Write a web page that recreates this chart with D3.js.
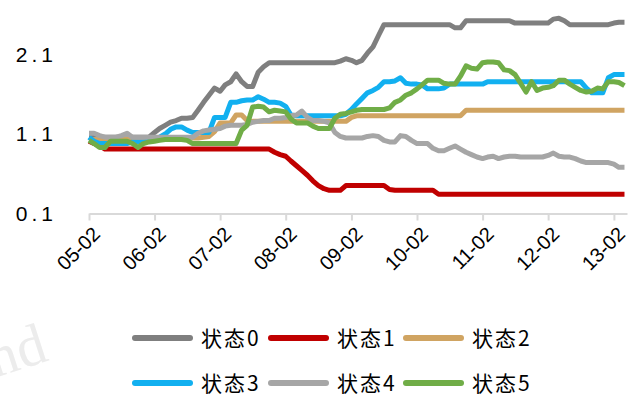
<!DOCTYPE html>
<html><head><meta charset="utf-8">
<script src="https://cdn.jsdelivr.net/npm/d3@7/dist/d3.min.js"></script>
<style>body{margin:0;background:#fff}svg{display:block}</style>
</head><body><div id="chart"></div>
<script>
const seriesNames = ["状态0","状态1","状态2","状态3","状态4","状态5"];
const colors = ["#7f7f7f","#c00000","#d0a462","#12b0f0","#a6a6a6","#70ad47"];
const yTicks = [0.1, 1.1, 2.1];
const yTickLabels = ["0.1","1.1","2.1"];
const xTickLabels = ["05-02","06-02","07-02","08-02","09-02","10-02","11-02","12-02","13-02"];
const startMonth = new Date(2005,1,1);
const endMonth = new Date(2013,3,1);

const s0 = [1.05,1.05,1.05,1.05,1.05,1.05,1.05,1.05,1.05,1.05,1.05,1.05,
 1.11,1.16,1.20,1.24,1.26,1.29,1.29,1.30,1.39,1.49,1.58,1.67,
 1.63,1.71,1.75,1.85,1.75,1.69,1.69,1.87,1.94,1.99,
 1.99,1.99,1.99,1.99,1.99,1.99,1.99,1.99,1.99,1.99,1.99,1.99,
 2.01,2.04,2.02,1.99,2.02,2.11,2.19,2.33,2.47,
 2.47,2.47,2.47,2.47,2.47,2.47,2.47,2.47,2.47,2.47,2.47,2.47,
 2.43,2.43,2.52,2.52,2.52,2.52,2.52,2.52,2.52,2.52,2.52,
 2.49,2.49,2.49,2.49,2.49,2.49,2.49,2.54,2.55,2.52,
 2.47,2.47,2.47,2.47,2.47,2.47,2.47,2.47,2.49,2.50,2.50];
const s1 = [1.00,0.97,0.94,
 0.90,0.90,0.90,0.90,0.90,0.90,0.90,0.90,0.90,0.90,0.90,0.90,0.90,0.90,0.90,0.90,
 0.90,0.90,0.90,0.90,0.90,0.90,0.90,0.90,0.90,0.90,0.90,0.90,0.90,0.90,0.90,
 0.86,0.83,0.81,0.75,0.69,0.63,0.57,0.50,0.44,0.40,0.38,0.38,0.38,
 0.44,0.44,0.44,0.44,0.44,0.44,0.44,0.44,0.39,
 0.38,0.38,0.38,0.38,0.38,0.38,0.38,0.38,
 0.33,0.33,0.33,0.33,0.33,0.33,0.33,0.33,0.33,0.33,0.33,0.33,0.33,0.33,0.33,0.33,0.33,0.33,
 0.33,0.33,0.33,0.33,0.33,0.33,0.33,0.33,0.33,0.33,0.33,0.33,0.33,0.33,0.33,0.33,0.33];
const s2 = [1.02,1.02,1.02,1.02,1.02,1.02,1.02,1.02,1.02,1.02,1.02,1.02,
 1.04,1.04,1.04,1.04,1.04,1.04,1.04,1.04,1.04,1.05,1.06,
 1.12,1.23,1.23,1.23,1.33,1.33,1.26,
 1.25,1.25,1.25,1.25,1.25,1.25,1.25,1.25,1.25,1.25,1.25,1.25,1.25,1.25,1.25,1.25,1.25,1.25,
 1.30,
 1.32,1.32,1.32,1.32,1.32,1.32,1.32,1.32,1.32,1.32,1.32,1.32,1.32,1.32,1.32,1.32,1.32,1.32,1.32,1.32,
 1.39,1.39,1.39,1.39,1.39,1.39,1.39,1.39,1.39,1.39,1.39,1.39,1.39,1.39,1.39,
 1.39,1.39,1.39,1.39,1.39,1.39,1.39,1.39,1.39,1.39,1.39,1.39,1.39,1.39,1.39];
const s3 = [1.05,1.00,0.97,0.97,0.97,0.97,0.97,0.97,0.99,0.99,0.99,1.00,
 1.02,1.05,1.09,1.15,1.18,1.18,1.14,1.11,1.11,1.11,1.11,1.30,
 1.30,1.30,1.49,1.49,1.51,1.52,1.52,1.56,1.53,1.49,1.49,1.48,
 1.44,1.33,1.32,1.32,1.32,1.32,1.32,1.32,1.32,1.32,1.32,1.34,
 1.40,1.47,1.54,1.61,1.64,1.68,1.75,1.75,1.76,1.80,1.73,1.72,
 1.72,1.71,1.66,1.66,1.66,1.67,1.72,1.72,1.72,1.72,1.72,1.72,
 1.72,1.75,1.75,1.75,1.75,1.75,1.75,1.75,1.75,1.75,1.75,1.75,
 1.75,1.75,1.75,1.75,1.75,1.75,1.75,1.67,1.61,1.61,1.61,1.80,
 1.84,1.84,1.84];
const s4 = [1.10,1.10,1.07,1.05,1.05,1.05,1.07,1.10,1.05,1.05,1.05,1.05,
 1.05,1.05,1.05,1.05,1.05,1.05,1.05,1.05,1.10,1.13,1.14,1.15,
 1.16,1.19,1.20,1.20,1.20,1.21,1.24,1.25,1.26,1.26,1.29,1.29,
 1.30,1.32,1.33,1.38,1.30,1.26,1.26,1.25,1.23,1.11,1.06,1.04,
 1.04,1.04,1.04,1.06,1.07,1.06,1.01,0.99,0.99,1.07,1.06,1.01,
 0.97,0.97,0.97,0.91,0.88,0.88,0.91,0.94,0.90,0.86,0.83,0.80,
 0.78,0.80,0.81,0.78,0.80,0.81,0.81,0.80,0.80,0.80,0.80,0.80,
 0.82,0.85,0.81,0.80,0.80,0.78,0.75,0.73,0.73,0.73,0.73,0.73,
 0.71,0.67,0.67];
const s5 = [1.01,0.97,0.92,0.92,1.00,1.00,1.00,1.00,0.97,0.92,0.97,0.99,
 1.00,1.01,1.02,1.02,1.02,1.02,1.01,0.97,0.97,0.97,0.97,0.97,
 0.97,0.97,0.97,0.97,1.14,1.20,1.43,1.44,1.43,1.37,1.39,1.38,
 1.37,1.28,1.23,1.23,1.23,1.19,1.16,1.16,1.16,1.29,1.34,1.35,
 1.37,1.39,1.40,1.40,1.40,1.40,1.40,1.42,1.49,1.52,1.58,1.61,
 1.66,1.71,1.77,1.77,1.77,1.73,1.72,1.72,1.82,1.95,1.92,1.91,
 1.99,2.00,2.00,1.99,1.90,1.89,1.84,1.73,1.62,1.75,1.64,1.67,
 1.68,1.70,1.77,1.77,1.72,1.68,1.64,1.62,1.63,1.67,1.66,1.75,
 1.75,1.74,1.70];
const seriesValues = [s0,s1,s2,s3,s4,s5];

const W = 639, H = 405;
const months = d3.timeMonth.range(startMonth, d3.timeMonth.offset(endMonth,1));
const svg = d3.select("#chart").append("svg").attr("width",W).attr("height",H);

// watermark
svg.append("text").attr("transform","translate(50,360) rotate(-18)")
  .attr("text-anchor","end").attr("font-family","Liberation Serif, serif")
  .attr("font-size",58).attr("fill","#ececec").text("Wind");

const x = d3.scaleTime().domain([startMonth, new Date(2013,3,15)]).range([89,627]);
const y = d3.scaleLinear().domain([0.1,2.1]).range([212.5,54]);

// x axis
const xTickVals = xTickLabels.map((_,i)=>new Date(2005+i,1,1));
const xAxis = d3.axisBottom(x).tickValues(xTickVals)
  .tickFormat((d,i)=>xTickLabels[i]).tickSizeInner(7).tickSizeOuter(0).tickPadding(4);
const gx = svg.append("g").attr("transform","translate(0,213.5)").call(xAxis);
gx.select(".domain").attr("stroke","#d9d9d9").attr("stroke-width",2);
gx.selectAll(".tick line").attr("stroke","#d9d9d9").attr("stroke-width",2);
gx.selectAll(".tick text")
  .attr("font-family","Liberation Sans, Arial, sans-serif").attr("font-size",20)
  .attr("fill","#000").attr("text-anchor","end")
  .attr("transform","translate(7,17) rotate(-45)").attr("dy","0.35em").attr("y",0).attr("x",0);

// y axis labels
const yAxis = d3.axisLeft(y).tickValues(yTicks).tickFormat((d,i)=>yTickLabels[i]).tickSize(0).tickPadding(0);
const gy = svg.append("g").attr("transform","translate(57,0)").call(yAxis);
gy.select(".domain").remove();
gy.selectAll(".tick text").attr("font-family","Liberation Sans, Arial, sans-serif")
  .attr("font-size",21).attr("fill","#000").attr("letter-spacing","4px").attr("dy","0.36em");

// lines
const line = d3.line().x((d,i)=>x(months[i])).y(d=>y(d));
seriesValues.forEach((vals,k)=>{
  svg.append("path").datum(vals).attr("d",line)
    .attr("fill","none").attr("stroke",colors[k]).attr("stroke-width",5)
    .attr("stroke-linejoin","round").attr("stroke-linecap","butt");
});

// legend
const legendX = [132,268,403];
const legendY = [338,383];
seriesNames.forEach((name,k)=>{
  const cx = legendX[k%3], cy = legendY[Math.floor(k/3)];
  const g = svg.append("g");
  g.append("line").attr("x1",cx+3).attr("x2",cx+58).attr("y1",cy).attr("y2",cy)
    .attr("stroke",colors[k]).attr("stroke-width",6).attr("stroke-linecap","round");
  g.append("text").attr("x",cx+69).attr("y",cy).attr("dy","0.36em")
    .attr("font-family","Noto Sans CJK SC, sans-serif").attr("font-size",21)
    .attr("letter-spacing","2px").attr("fill","#000").text(name);
});
</script></body></html>
